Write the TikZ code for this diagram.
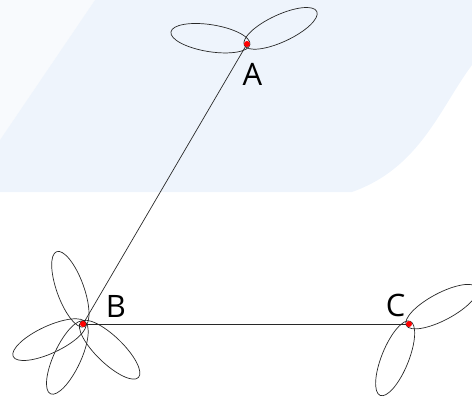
\documentclass[tikz,border=0pt]{standalone}
\usepackage{fontspec}
\setmainfont{Open Sans}
\definecolor{bgblue}{RGB}{238,244,252}
\definecolor{bgpale}{RGB}{248,250,253}
\definecolor{ink}{RGB}{40,40,40}
\tikzset{
  petal/.style={draw=ink, line width=0.7pt},
  edge/.style={draw=ink, line width=0.7pt},
  dot/.style={circle, fill=red, inner sep=0pt, minimum size=6pt},
  lbl/.style={font=\fontsize{31}{31}\selectfont, text=black, inner sep=0pt}
}
\begin{document}
\begin{tikzpicture}[x=1bp,y=1bp]
\useasboundingbox (0,0) rectangle (472,398);
% background watermark
\fill[bgpale] (0,398) -- (95,398) -- (0,258) -- cycle;
\fill[bgblue] (95,398) -- (472,398) -- (472,333)
  .. controls (440,290) and (420,230) .. (352,206)
  -- (0,206) -- (0,258) -- cycle;
% points
\coordinate (A) at (247,354);
\coordinate (B) at (83,74);
\coordinate (C) at (409,74);
% petals at A
\draw[petal, shift={(A)}, rotate=171] (37,0) ellipse [x radius=40, y radius=13.5];
\draw[petal, shift={(A)}, rotate=25] (37,0) ellipse [x radius=40, y radius=13.5];
% petals at B
\draw[petal, shift={(B)}, rotate=110] (37,0) ellipse [x radius=40, y radius=13.5];
\draw[petal, shift={(B)}, rotate=205] (37,0) ellipse [x radius=40, y radius=13.5];
\draw[petal, shift={(B)}, rotate=245] (37,0) ellipse [x radius=40, y radius=13.5];
\draw[petal, shift={(B)}, rotate=-44] (37,0) ellipse [x radius=40, y radius=13.5];
% petals at C
\draw[petal, shift={(C)}, rotate=28] (37,0) ellipse [x radius=40, y radius=13.5];
\draw[petal, shift={(C)}, rotate=248] (37,0) ellipse [x radius=40, y radius=13.5];
% edges
\draw[edge] (A) -- (B);
\draw[edge] (B) -- (C);
% dots
\node[dot] (dA) at (A) {};
\node[dot] (dB) at (B) {};
\node[dot] (dC) at (C) {};
% labels
\node[lbl] (lA) at (252.5,323.5) {A};
\node[lbl] (lB) at (116,91.5) {B};
\node[lbl] (lC) at (395.5,93) {C};
\end{tikzpicture}
\end{document}
